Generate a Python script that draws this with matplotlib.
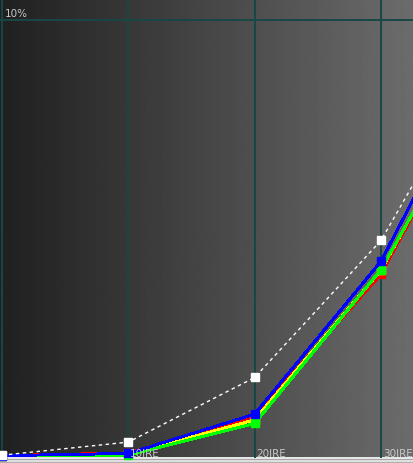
import numpy as np
import matplotlib
matplotlib.use("Agg")
import matplotlib.pyplot as plt

# IRE steps (40 IRE sits just past the right edge)
ire = [0, 10, 20, 30, 40]

# luminance in % of white
target = [0.03, 0.33, 1.81, 4.95, 9.99]
red = [0.02, 0.08, 0.92, 4.18, 9.51]
yellow = [0.02, 0.05, 0.84, 4.27, 9.45]
green = [0.02, 0.03, 0.76, 4.28, 9.42]
blue = [0.02, 0.07, 0.97, 4.47, 10.03]

grid_ire = [0, 10, 20, 30]
ire_labels = ["", "10IRE", "20IRE", "30IRE"]

W, H = 414, 463
fig = plt.figure(figsize=(W / 100, H / 100), dpi=100)
ax = fig.add_axes([0, 0, 1, 1])

# pixel -> data mapping of the original screen
kx = 30 / 379.0
ky = 10 / 436.5
x0, x1 = -2 * kx, (W - 2) * kx
y0, y1 = -(H - 456.5) * ky, 456.5 * ky
ax.set_xlim(x0, x1)
ax.set_ylim(y0, y1)
ax.axis("off")

# dark-to-grey horizontal gradient background
grad = np.linspace(32, 108, 256)[None, :] / 255.0
ax.imshow(grad, cmap="gray", vmin=0, vmax=1, aspect="auto",
          extent=[x0, x1, y0, y1], zorder=0)

# bottom strip of the window
def py(p):
    return (456.5 - p) * ky
ax.axhspan(py(458.5), py(457), color="#e6e6e6", lw=0, zorder=1)
ax.axhspan(py(460), py(458.5), color="#a8a8a8", lw=0, zorder=1)
ax.axhspan(py(462), py(460), color="#dedede", lw=0, zorder=1)
ax.axhspan(y0, py(462), color="#b0b0b0", lw=0, zorder=1)

grid_col = "#164846"
for g in grid_ire:
    ax.plot([g, g], [py(457), y1], color=grid_col, lw=1.4, zorder=2)
ax.axhline(10, color=grid_col, lw=1.4, zorder=2)

txt_col = "#c8c8c8"
ax.text(5 / W, 1 - 17 / H, "10%", transform=ax.transAxes, color=txt_col,
        fontsize=7.5, ha="left", va="baseline")
for g, lab in zip(grid_ire, ire_labels):
    if lab:
        ax.annotate(lab, (g, 0), xytext=(1.2, -0.3), textcoords="offset points",
                    color=txt_col, fontsize=7.5, ha="left", va="baseline",
                    zorder=6)

ms = 5.2
for vals, col in [(red, "#ff0000"), (yellow, "#ffff00"),
                  (green, "#00ff00"), (blue, "#0000ff")]:
    ax.plot(ire, vals, color=col, lw=1.4, marker="s", ms=ms, mec=col,
            mfc=col, antialiased=False, zorder=4, clip_on=True)

ax.plot(ire, target, color="white", lw=1, ls=(0, (2.5, 2.5)), marker="s",
        ms=ms, mec="white", mfc="white", zorder=5)

fig.savefig("out.png", dpi=100)
